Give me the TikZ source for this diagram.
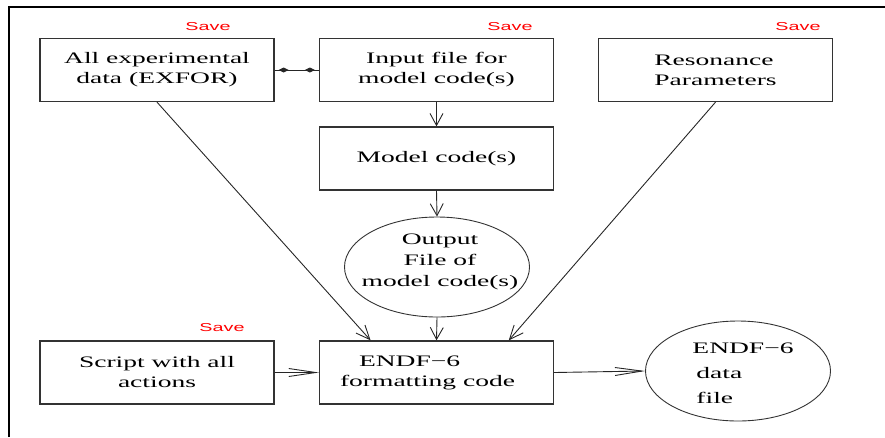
\documentclass[tikz,border=0pt]{standalone}
\usepackage{fontspec}
\setmainfont{Liberation Serif}[FakeStretch=1.72]
\newfontfamily\savefont{Liberation Sans}[FakeStretch=1.72]
\usetikzlibrary{shapes.geometric,arrows.meta,calc}

\begin{document}
\begin{tikzpicture}[x=1pt,y=-1pt,
  box/.style={draw=black!80, line width=1.3pt, minimum width=234pt,
    minimum height=63pt, inner sep=0pt, align=center,
    font=\fontsize{16}{20}\selectfont},
  oval/.style={draw=black!80, line width=0.9pt, ellipse, minimum width=185pt,
    minimum height=100pt, inner sep=0pt},
  ovaltext/.style={inner sep=0pt},
  savelbl/.style={text=red, font=\savefont\fontsize{11.5}{13}\selectfont,
    inner sep=0pt},
  conn/.style={draw=black!85, line width=0.9pt},
  vtip/.style={-{Straight Barb[length=12pt,width=13pt]}},
  htip/.style={-{Straight Barb[length=27pt,width=8pt]}},
  dtip/.style={-{Straight Barb[length=14pt,width=12pt]}},
  dia/.style={{Diamond[length=10pt,width=5pt]}-{Diamond[length=10pt,width=5pt]},
    shorten <=4pt, shorten >=4pt}
]
\useasboundingbox (0,0) rectangle (885,437);

% frame
\draw[line width=2pt] (9,437) -- (9,7) -- (885,7);

% top row
\node[box] (exfor) at (157,70) {All experimental\\data (EXFOR)};
\node[box] (input) at (436.5,70) {Input file for\\model code(s)};
\node[box, align=left] (res) at (715.5,70) {Resonance\\Parameters};

% middle column
\node[box] (model) at (436.5,158.5) {Model code(s)};
\node[oval] (out) at (437,267) {};
\node[ovaltext, align=center, font=\fontsize{16}{21}\selectfont] (outtxt)
  at (440,262) {Output\\File of\\model code(s)};

% bottom row
\node[box] (script) at (157,372.5) {Script with all\\actions};
\node[box, align=left] (endf) at (436.5,372.5)
  {\hspace*{19pt}ENDF−6\\formatting code\hspace*{18pt}};
\node[oval] (data) at (738,371) {};
\node[ovaltext, align=left, font=\fontsize{16}{25}\selectfont] (datatxt)
  at (743,373) {ENDF−6\\\hspace*{4pt}data\\\hspace*{4pt}file};

% save markers
\node[savelbl] (s1) at (208,27) {Save};
\node[savelbl] (s2) at (510,27) {Save};
\node[savelbl] (s3) at (798,27) {Save};
\node[savelbl] (s4) at (222,328) {Save};

% connectors
\draw[conn] (exfor.east) -- (input.west);
\draw[conn, dia] (exfor.east) -- (input.west);
\draw[conn, vtip] (input.south) -- (model.north);
\draw[conn, vtip] (model.south) -- (out.north);
\draw[conn, vtip] (out.south) -- (endf.north);
\draw[conn, dtip] (exfor.south) -- ($(endf.north west)!0.22!(endf.north east)$);
\draw[conn, dtip] (res.south) -- ($(endf.north west)!0.807!(endf.north east)$);
\draw[conn, htip] (script.east) -- (endf.west);
\draw[conn, htip] (endf.east) -- (data.west);
\end{tikzpicture}
\end{document}
